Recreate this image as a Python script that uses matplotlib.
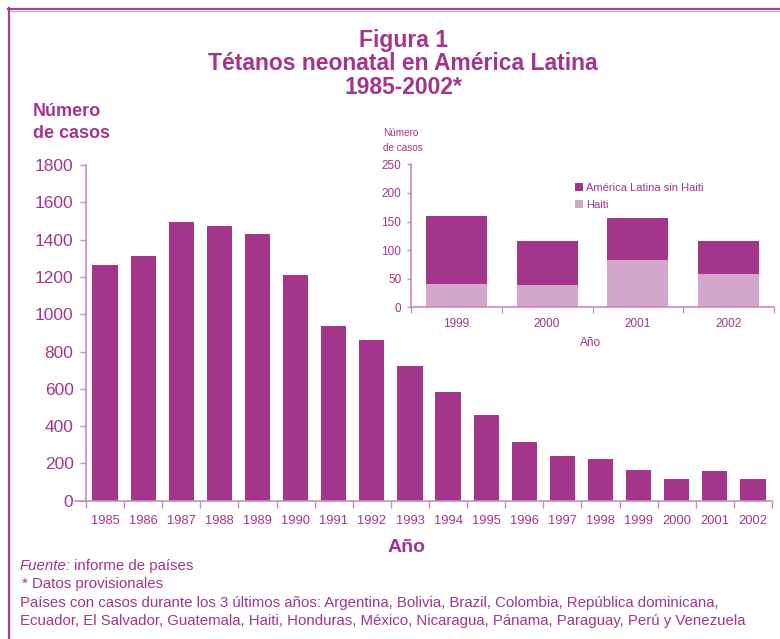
import matplotlib
matplotlib.use("Agg")
import matplotlib.pyplot as plt
from matplotlib.lines import Line2D
import numpy as np

# ---- data ----
years = ["1985", "1986", "1987", "1988", "1989", "1990", "1991", "1992", "1993",
         "1994", "1995", "1996", "1997", "1998", "1999", "2000", "2001", "2002"]
cases = [1263, 1311, 1494, 1472, 1429, 1209, 935, 860, 720,
         585, 457, 317, 242, 225, 166, 118, 161, 118]
main_yticks = [0, 200, 400, 600, 800, 1000, 1200, 1400, 1600, 1800]

inset_years = ["1999", "2000", "2001", "2002"]
haiti = [41, 39, 83, 58]
latam_sin_haiti = [119, 77, 73, 58]
inset_yticks = [0, 50, 100, 150, 200, 250]

# ---- style ----
DARK = "#A3358A"
LIGHT = "#D3A6CB"
TXT = "#A3358A"
SPINE = "#C98BC0"
REG = ["Liberation Sans", "DejaVu Sans"]

W, H = 780, 639
fig = plt.figure(figsize=(W / 100, H / 100), dpi=100)

def fx(x):
    return x / W

def fy(y):
    return 1 - y / H

# frame
fig.add_artist(Line2D([fx(8), fx(780)], [fy(9), fy(9)], color="#A0448F", lw=1.6, transform=fig.transFigure))
fig.add_artist(Line2D([fx(10), fx(780)], [fy(10.6), fy(10.6)], color="#CFA2C7", lw=0.8, transform=fig.transFigure))
fig.add_artist(Line2D([fx(9), fx(9)], [fy(8), fy(639)], color="#A0448F", lw=1.6, transform=fig.transFigure))

# titles
for txt, y in [("Figura 1", 40), ("Tétanos neonatal en América Latina", 64), ("1985-2002*", 88)]:
    fig.text(fx(403), fy(y), txt, ha="center", va="center", fontsize=16.5,
             fontweight="bold", color=TXT, family=REG)

fig.text(fx(33), fy(112), "Número", ha="left", va="center", fontsize=13,
         fontweight="bold", color=TXT, family=REG)
fig.text(fx(33), fy(133), "de casos", ha="left", va="center", fontsize=13,
         fontweight="bold", color=TXT, family=REG)

# ---- main axes ----
ax = fig.add_axes([fx(86), fy(500.7), fx(772) - fx(86), (500.7 - 165) / H])
x = np.arange(len(years))
ax.bar(x, cases, width=0.66, color=DARK, zorder=2)
ax.set_xlim(-0.5, len(years) - 0.5)
ax.set_ylim(0, 1800)
ax.set_yticks(main_yticks)
ax.set_yticklabels([str(v) for v in main_yticks], fontsize=12.5, color=TXT, family=REG)
ax.set_xticks(x)
ax.set_xticklabels(years, fontsize=9.3, color=TXT, family=REG)
ax.set_xticks(np.arange(-0.5, len(years)), minor=True)
ax.tick_params(axis="x", which="major", length=0, pad=10)
ax.tick_params(axis="x", which="minor", length=5, color=SPINE, width=1, direction="out")
ax.tick_params(axis="y", length=4, color=SPINE, width=1, pad=5)
for s in ["top", "right"]:
    ax.spines[s].set_visible(False)
for s in ["left", "bottom"]:
    ax.spines[s].set_color(SPINE)
    ax.spines[s].set_linewidth(1.2)
ax.spines["bottom"].set_bounds(-0.8, len(years) - 0.5)

fig.text(fx(407), fy(548), "Año", ha="center", va="center", fontsize=14,
         fontweight="bold", color=TXT, family=REG)

# ---- inset ----
ia = fig.add_axes([fx(411), fy(307.3), fx(774) - fx(411), 143 / H])
ia.set_facecolor("white")
xi = np.arange(len(inset_years))
ia.bar(xi, haiti, width=0.67, color=LIGHT, label="Haiti", zorder=2)
ia.bar(xi, latam_sin_haiti, width=0.67, bottom=haiti, color=DARK,
       label="América Latina sin Haiti", zorder=2)
ia.set_xlim(-0.5, len(inset_years) - 0.5)
ia.set_ylim(0, 250)
ia.set_yticks(inset_yticks)
ia.set_yticklabels([str(v) for v in inset_yticks], fontsize=8.5, color=TXT, family=REG)
ia.set_xticks(xi)
ia.set_xticklabels(inset_years, fontsize=8.5, color=TXT, family=REG)
ia.set_xticks(np.arange(-0.5, len(inset_years)), minor=True)
ia.tick_params(axis="x", which="major", length=0, pad=8)
ia.tick_params(axis="x", which="minor", length=4, color=SPINE, width=1)
ia.tick_params(axis="y", length=3, color=SPINE, width=1, pad=4)
for s in ["top", "right"]:
    ia.spines[s].set_visible(False)
for s in ["left", "bottom"]:
    ia.spines[s].set_color(SPINE)
    ia.spines[s].set_linewidth(1.2)
h, l = ia.get_legend_handles_labels()
leg = ia.legend(h[::-1], l[::-1], loc="upper left", bbox_to_anchor=(0.44, 0.9),
                frameon=False, handlelength=0.7, handleheight=0.7,
                handletextpad=0.3, labelspacing=0.6, borderaxespad=0,
                prop={"family": REG, "size": 8})
for t in leg.get_texts():
    t.set_color(TXT)

fig.text(fx(383), fy(133), "Número", ha="left", va="center", fontsize=7.2, color=TXT, family=REG)
fig.text(fx(383), fy(148), "de casos", ha="left", va="center", fontsize=7.2, color=TXT, family=REG)
fig.text(fx(591), fy(343), "Año", ha="center", va="center", fontsize=8.5, color=TXT, family=REG)

# ---- footer ----
FS = 10.8
t1 = fig.text(fx(20), fy(566), "Fuente:", ha="left", va="center", fontsize=FS,
              color=TXT, family=REG, style="italic")
renderer = fig.canvas.get_renderer()
bb = t1.get_window_extent(renderer=renderer)
fig.text(bb.x1 / W + fx(3), fy(566), "informe de países", ha="left", va="center", fontsize=FS,
         color=TXT, family=REG)
fig.text(fx(22), fy(584), "* Datos provisionales", ha="left", va="center", fontsize=FS,
         color=TXT, family=REG)
fig.text(fx(20), fy(603), "Países con casos durante los 3 últimos años: Argentina, Bolivia, Brazil, Colombia, República dominicana,",
         ha="left", va="center", fontsize=FS, color=TXT, family=REG)
fig.text(fx(20), fy(621), "Ecuador, El Salvador, Guatemala, Haiti, Honduras, México, Nicaragua, Pánama, Paraguay, Perú y Venezuela",
         ha="left", va="center", fontsize=FS, color=TXT, family=REG)

fig.savefig("out.png", dpi=100)
